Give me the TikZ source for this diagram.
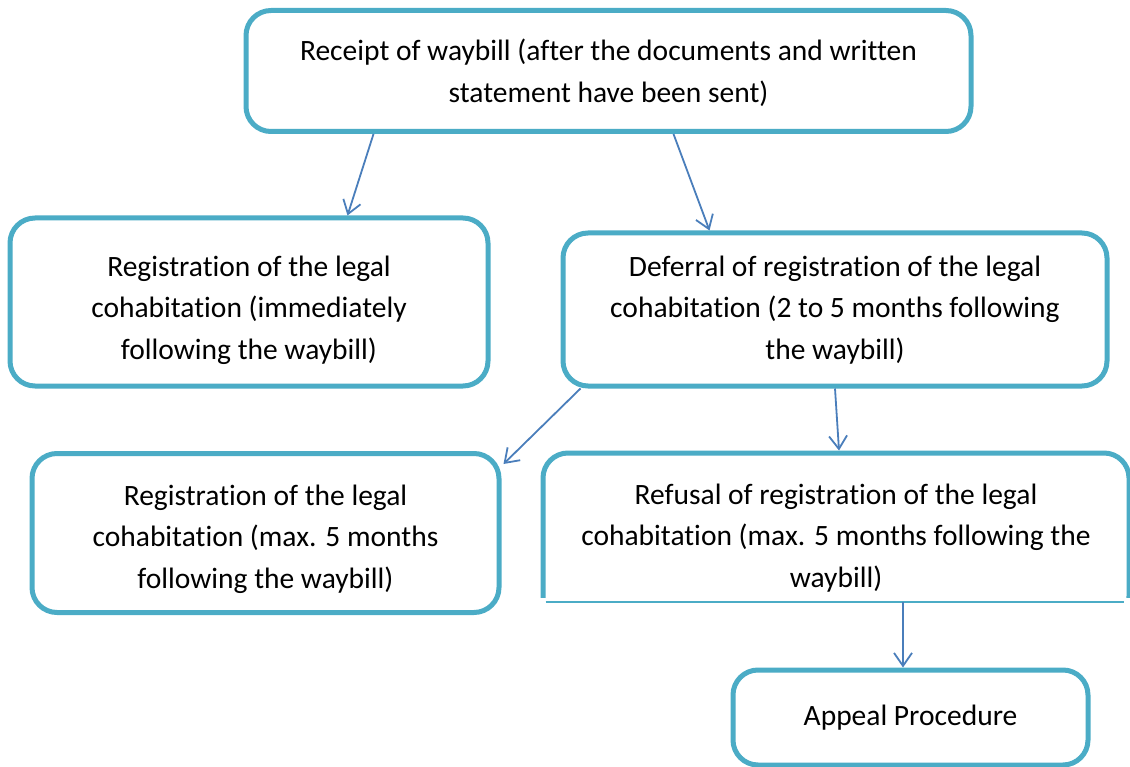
\documentclass[tikz,border=0pt]{standalone}
\usepackage{fontspec}
\setmainfont{Carlito}[Ligatures=NoCommon]
\usetikzlibrary{arrows.meta}
\definecolor{boxc}{HTML}{4BACC6}
\definecolor{arrc}{HTML}{4A7EBB}
\newcommand\pushdown[1]{\rule{0pt}{\dimexpr\fontcharht\font`h+#1\relax}}
\tikzset{
  box/.style={draw=boxc, line width=5pt, rounded corners=25pt, fill=white, align=center,
    inner sep=0pt, font=\fontsize{29.5}{41.5}\selectfont, text=black},
  conn/.style={draw=arrc, line width=1.8pt, -{Straight Barb[length=13pt,width=18pt,line width=1.8pt]}}
}
\begin{document}
\begin{tikzpicture}[x=1pt,y=-1pt]
\useasboundingbox (0,0) rectangle (1130,767);
\node[box, minimum width=725pt, minimum height=121pt] (top) at (608.5,71)
  {\pushdown{5pt}Receipt of waybill (after the documents and written\\statement have been sent)};
\node[box, minimum width=478pt, minimum height=168pt] (A) at (249,302)
  {\pushdown{16pt}Registration of the legal\\cohabitation (immediately\\following the waybill)};
\node[box, minimum width=544pt, minimum height=153pt] (B) at (835,309.5)
  {\pushdown{1pt}Deferral of registration of the legal\\cohabitation (2 to 5 months following\\the waybill)};
\node[box, minimum width=467pt, minimum height=159pt] (C) at (265.5,533)
  {\pushdown{12pt}Registration of the legal\\cohabitation (max. 5 months\\following the waybill)};
\begin{scope}
\clip (0,0) rectangle (1130,597);
\node[box, minimum width=586pt, minimum height=168pt] (D) at (836,537)
  {\pushdown{2pt}Refusal of registration of the legal\\cohabitation (max. 5 months following the\\waybill)};
\end{scope}
\draw[boxc, line width=2.5pt] ([xshift=5pt]D.west |- 0,602) coordinate (dbl) -- (1124,602) coordinate (dbr);
\node[box, minimum width=355pt, minimum height=95pt] (E) at (910.5,717.5) {Appeal Procedure};
\draw[conn] ([xshift=130pt]top.south west) -- ([xshift=340pt]A.north west);
\draw[conn] ([xshift=430pt]top.south west) -- ([xshift=149pt]B.north west);
\draw[conn] ([xshift=20pt]B.south west) -- ([xshift=2pt,yshift=-13pt]C.north east);
\draw[conn] (B.south) -- ([xshift=3pt]D.north);
\path (dbl -| E.north) ++(-7.5,0) coordinate (dstart);
\draw[conn] (dstart) -- ([xshift=-7.5pt]E.north);
\end{tikzpicture}
\end{document}
